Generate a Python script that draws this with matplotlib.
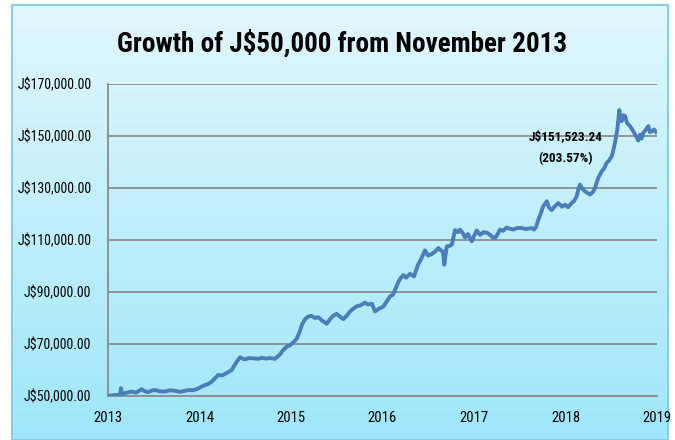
import numpy as np
import matplotlib
matplotlib.use("Agg")
import matplotlib.pyplot as plt
from matplotlib.ticker import FuncFormatter

plt.rcParams['font.family'] = ['Roboto Condensed', 'DejaVu Sans']

# Data: years elapsed since start of 2013 axis, and portfolio value (J$)
years_elapsed = [
    0.000, 0.055, 0.109, 0.131, 0.142, 0.153, 0.197, 0.259, 0.306, 0.368,
    0.404, 0.437, 0.481, 0.514, 0.568, 0.623, 0.678, 0.732, 0.787, 0.842,
    0.885, 0.929, 0.973, 1.005, 1.060, 1.093, 1.133, 1.169, 1.205, 1.246,
    1.279, 1.311, 1.352, 1.377, 1.407, 1.443, 1.475, 1.497, 1.541, 1.588,
    1.639, 1.683, 1.727, 1.770, 1.825, 1.880, 1.913, 1.953, 1.989, 2.022,
    2.062, 2.098, 2.120, 2.153, 2.189, 2.226, 2.262, 2.298, 2.339, 2.390,
    2.426, 2.459, 2.499, 2.536, 2.572, 2.612, 2.645, 2.678, 2.718, 2.754,
    2.809, 2.842, 2.885, 2.918, 2.962, 3.009, 3.049, 3.082, 3.115, 3.137,
    3.169, 3.191, 3.227, 3.257, 3.301, 3.344, 3.388, 3.421, 3.464, 3.497,
    3.538, 3.574, 3.610, 3.639, 3.661, 3.675, 3.702, 3.738, 3.760, 3.792,
    3.825, 3.847, 3.880, 3.902, 3.934, 3.975, 4.000, 4.030, 4.066, 4.102,
    4.142, 4.175, 4.208, 4.230, 4.262, 4.284, 4.317, 4.357, 4.393, 4.430,
    4.470, 4.521, 4.568, 4.631, 4.656, 4.678, 4.703, 4.732, 4.754, 4.795,
    4.820, 4.849, 4.885, 4.921, 4.962, 4.995, 5.027, 5.068, 5.093, 5.122,
    5.137, 5.158, 5.180, 5.213, 5.246, 5.268, 5.301, 5.322, 5.358, 5.396,
    5.421, 5.450, 5.475, 5.505, 5.519, 5.541, 5.566, 5.588, 5.601, 5.614,
    5.628, 5.650, 5.672, 5.705, 5.741, 5.770, 5.795, 5.814, 5.831, 5.850,
    5.880, 5.905, 5.923, 5.942, 5.967, 5.989,
]
values = [
    50000, 50300, 50400, 50200, 53000, 50800, 51200, 51700, 51300, 52600,
    51800, 51500, 52100, 52300, 51800, 51700, 52200, 52000, 51600, 52000,
    52300, 52200, 52700, 53300, 54200, 54600, 55500, 56800, 58100, 57900,
    58500, 59100, 60000, 61500, 63200, 64900, 64300, 64100, 64600, 64500,
    64300, 64700, 64400, 64600, 64300, 66000, 67600, 69000, 69500, 70500,
    72000, 75000, 77500, 79500, 80600, 80800, 80000, 80300, 79000, 77800,
    79500, 80800, 81600, 80500, 79600, 81000, 82500, 83500, 84500, 84800,
    85900, 85200, 85500, 82500, 83600, 84400, 86500, 88300, 89000, 90800,
    93500, 95000, 96500, 95500, 97000, 96000, 100500, 102600, 106000, 104000,
    104600, 105500, 106900, 106000, 105500, 100500, 107500, 107800, 108400, 113800,
    113000, 114000, 112500, 111000, 112300, 109500, 111500, 113700, 112000, 113000,
    112800, 112000, 111000, 110700, 112500, 114000, 113500, 114800, 114300, 114000,
    114600, 114600, 114200, 114600, 114000, 115000, 117800, 120500, 122800, 124900,
    122500, 121500, 123000, 124200, 122800, 123600, 122600, 124200, 125000, 126800,
    129000, 131300, 130000, 128700, 128000, 127500, 128500, 130000, 133900, 136400,
    137500, 139700, 140500, 142200, 144000, 147400, 152500, 160000, 156500, 155700,
    158000, 157700, 155000, 153800, 151800, 150000, 148200, 150500, 149000, 151200,
    152500, 153800, 151500, 151800, 152500, 151523,
]
start_year = 2013
year_ticks = [2013, 2014, 2015, 2016, 2017, 2018, 2019]
value_ticks = [50000, 70000, 90000, 110000, 130000, 150000, 170000]
title = "Growth of J$50,000 from November 2013"
final_label = "J$151,523.24\n(203.57%)"

fig = plt.figure(figsize=(6.75, 4.40), dpi=100)
fig.patch.set_facecolor("white")

# gradient background panel
bg = fig.add_axes([12/675, 0, (668-12)/675, 1-5/440], zorder=-5)
top = np.array([226, 247, 253]) / 255
bot = np.array([158, 231, 250]) / 255
t = np.linspace(0, 1, 256)[:, None]
grad = top[None, :] * (1 - t) + bot[None, :] * t
bg.imshow(grad[:, None, :], aspect="auto", extent=[0, 1, 0, 1])
bg.set_xlim(0, 1); bg.set_ylim(0, 1)
bg.set_xticks([]); bg.set_yticks([])
for s in bg.spines.values():
    s.set_color("#86cfe4")
    s.set_linewidth(1.5)

ax = fig.add_axes([108/675, 1-396/440, (657-108)/675, (396-84)/440])
ax.set_facecolor("none")
x = start_year + np.array(years_elapsed)
ax.plot(x, values, color="#4a7ebb", lw=2.8, solid_joinstyle="round", zorder=3)

ax.set_xlim(year_ticks[0], year_ticks[-1])
ax.set_ylim(value_ticks[0], value_ticks[-1])
ax.set_xticks(year_ticks)
ax.set_xticklabels([str(y) for y in year_ticks])
ax.set_yticks(value_ticks)
ax.yaxis.set_major_formatter(FuncFormatter(lambda v, p: f"J${v:,.2f}"))
ax.tick_params(axis="both", length=0, labelsize=10, colors="black")
ax.tick_params(axis="x", labelsize=10.5)
ax.tick_params(axis="y", pad=12)
ax.tick_params(axis="x", pad=11)
ax.grid(axis="y", color="#8c8c8c", lw=1.3, zorder=1)
ax.grid(axis="x", visible=False)
for k in ["top", "right"]:
    ax.spines[k].set_visible(False)
ax.spines["left"].set_color("#8c8c8c")
ax.spines["left"].set_linewidth(1.3)
ax.spines["bottom"].set_color("#8c8c8c")
ax.spines["bottom"].set_linewidth(1.3)

ax.text(start_year + 5.0, 145500, final_label, ha="center", va="center",
        fontsize=9.5, fontweight="bold", linespacing=1.8)

fig.text(0.507, 1 - 43/440, title, ha="center", va="center",
         fontsize=19.5, fontweight="bold")

fig.savefig("out.png", dpi=100)
